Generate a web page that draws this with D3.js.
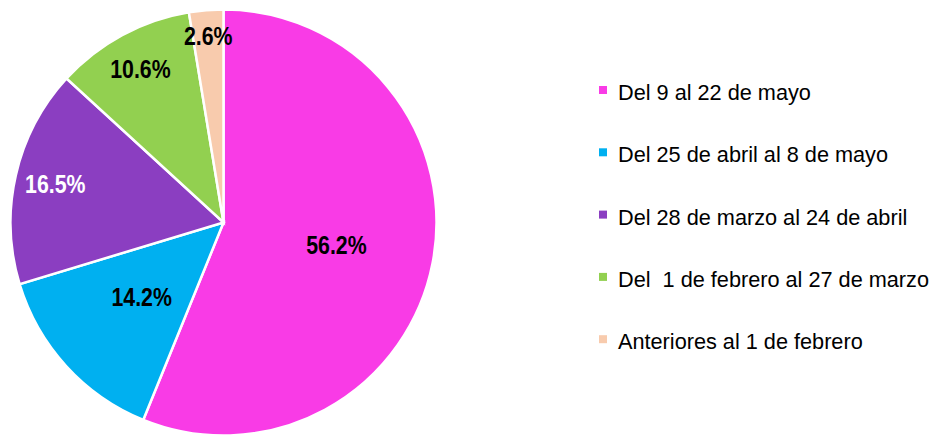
<!DOCTYPE html>
<html>
<head>
<meta charset="utf-8">
<script src="https://cdn.jsdelivr.net/npm/d3@7"></script>
<style>
  html, body { margin: 0; padding: 0; background: #ffffff; }
  svg { display: block; }
</style>
</head>
<body>
<svg id="chart" width="933" height="435"></svg>
<script>
// ---- data ----
const categories = [
  "Del 9 al 22 de mayo",
  "Del 25 de abril al 8 de mayo",
  "Del 28 de marzo al 24 de abril",
  "Del  1 de febrero al 27 de marzo",
  "Anteriores al 1 de febrero"
];
const values = [56.2, 14.2, 16.5, 10.6, 2.6];
const colors = ["#F93BE6", "#00B0F0", "#8B3EC1", "#92D050", "#F8CBAD"];
const labelColors = ["#000000", "#000000", "#ffffff", "#000000", "#000000"];
// label distance from centre as share of the radius (best-fit placement)
const labelRadiusShare = [0.54, 0.52, 0.81, 0.82, 0.88];

// ---- layout ----
const W = 933, H = 435;
const cx = 223.5, cy = 222.5, R = 213;

const svg = d3.select("#chart");
svg.append("rect").attr("width", W).attr("height", H).attr("fill", "#fff");

const data = categories.map((c, i) => ({ name: c, value: values[i], i }));

const pie = d3.pie().value(d => d.value).sort(null);
const arcs = pie(data);
const arc = d3.arc().innerRadius(0).outerRadius(R);

const g = svg.append("g").attr("transform", `translate(${cx},${cy})`);

g.selectAll("path.slice")
  .data(arcs)
  .join("path")
  .attr("class", "slice")
  .attr("d", arc)
  .attr("fill", d => colors[d.data.i])
  .attr("stroke", "#ffffff")
  .attr("stroke-width", 2.5)
  .attr("stroke-linejoin", "miter");

const fmt = d3.format(".1f");
g.selectAll("text.lbl")
  .data(arcs)
  .join("text")
  .attr("class", "lbl")
  .attr("transform", d => {
    const r = R * labelRadiusShare[d.data.i];
    const c = d3.arc().innerRadius(r).outerRadius(r).centroid(d);
    return `translate(${c[0]},${c[1]}) scale(0.82,1)`;
  })
  .attr("text-anchor", "middle")
  .attr("dy", "0.36em")
  .attr("font-family", "'Liberation Sans', Arial, sans-serif")
  .attr("font-weight", "bold")
  .attr("font-size", 26)
  .attr("fill", d => labelColors[d.data.i])
  .text(d => fmt(d.data.value) + "%");

// ---- legend ----
const legendX = 599, legendBase0 = 100, legendStep = 62.3;
const lg = svg.append("g");
const item = lg.selectAll("g.item")
  .data(data)
  .join("g")
  .attr("class", "item")
  .attr("transform", (d, i) => `translate(${legendX},${legendBase0 + i * legendStep})`);

item.append("rect")
  .attr("x", 0)
  .attr("y", -14)
  .attr("width", 8)
  .attr("height", 8)
  .attr("fill", d => colors[d.i]);

item.append("text")
  .attr("x", 19)
  .attr("y", 0)
  .attr("transform", "translate(19,0) scale(1,1.05) translate(-19,0)")
  .attr("font-family", "'Liberation Sans', Arial, sans-serif")
  .attr("font-size", 21.7)
  .attr("fill", "#000")
  .attr("xml:space", "preserve")
  .style("white-space", "pre")
  .text(d => d.name);
</script>
</body>
</html>
